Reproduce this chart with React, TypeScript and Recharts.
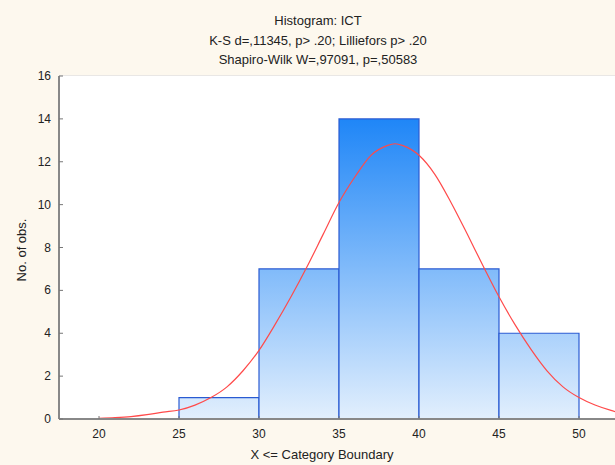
import React from 'react';
import { ComposedChart, Line, XAxis, YAxis, CartesianGrid, ReferenceArea } from 'recharts';

const titleLines = ['Histogram: ICT', 'K-S d=,11345, p> .20; Lilliefors p> .20', 'Shapiro-Wilk W=,97091, p=,50583'];
const xLabel = 'X <= Category Boundary';
const yLabel = 'No. of obs.';

const binLower = [25, 30, 35, 40, 45];
const binUpper = [30, 35, 40, 45, 50];
const binCounts = [1, 7, 14, 7, 4];

const xTicks = [20, 25, 30, 35, 40, 45, 50];
const yTicks = [0, 2, 4, 6, 8, 10, 12, 14, 16];

const curveX = [20, 21, 22, 23, 24, 25, 26, 27, 28, 29, 30, 31, 32, 33, 34, 35, 36, 37, 38, 38.5, 39, 40, 41, 42, 43, 44, 45, 46, 47, 48, 49, 50, 51, 52, 52.5];
const curveY = [0.03, 0.06, 0.11, 0.2, 0.32, 0.42, 0.65, 1.0, 1.5, 2.25, 3.2, 4.4, 5.7, 7.1, 8.6, 10.1, 11.3, 12.3, 12.75, 12.84, 12.75, 12.3, 11.4, 10.1, 8.65, 7.15, 5.7, 4.4, 3.25, 2.25, 1.5, 1.0, 0.65, 0.4, 0.3];

const curveData = curveX.map((x, i) => ({ x, y: curveY[i] }));

const FONT = '"Liberation Sans", Arial, sans-serif';

const BottomTick = (props: any) => {
  const { x, y, payload } = props;
  return (
    <g>
      <line x1={x} y1={y} x2={x} y2={y - 3} stroke="#777" strokeWidth={1} />
      <text x={x} y={y + 19} textAnchor="middle" fontSize={12} fill="#222" fontFamily={FONT}>{payload.value}</text>
    </g>
  );
};

const TopTick = (props: any) => {
  const { x, y } = props;
  return <line x1={x} y1={y} x2={x} y2={y + 3} stroke="#777" strokeWidth={1} />;
};

const LeftTick = (props: any) => {
  const { x, y, payload } = props;
  return (
    <g>
      <line x1={x} y1={y} x2={x + 4} y2={y} stroke="#777" strokeWidth={1} />
      <text x={x - 8} y={y + 4} textAnchor="end" fontSize={12} fill="#222" fontFamily={FONT}>{payload.value}</text>
    </g>
  );
};

export default function App() {
  return (
    <div style={{ position: 'absolute', left: 0, top: 0, width: 615, height: 465, overflow: 'hidden', background: '#fdf8ee' }}>
      <ComposedChart
        width={625}
        height={465}
        data={curveData}
        margin={{ top: 76, right: 6, bottom: 0, left: 0 }}
        style={{ fontFamily: FONT }}
      >
        <defs>
          <linearGradient id="barGrad" gradientUnits="userSpaceOnUse" x1="0" y1="119" x2="0" y2="419">
            <stop offset="0" stopColor="#1f86f7" />
            <stop offset="1" stopColor="#e2effd" />
          </linearGradient>
        </defs>
        <rect x={59} y={76} width={560} height={343} fill="#ffffff" />
        <CartesianGrid vertical={false} stroke="#e2e2e2" strokeWidth={1.5} fill="#ffffff" />
        <XAxis
          dataKey="x"
          type="number"
          domain={[17.5, 52.5]}
          ticks={xTicks}
          allowDataOverflow
          height={46}
          tickSize={0}
          tickMargin={0}
          tick={<BottomTick />}
          axisLine={{ stroke: '#888', strokeWidth: 2 }}
          tickLine={false}
        />
        <XAxis
          xAxisId="top"
          orientation="top"
          dataKey="x"
          type="number"
          domain={[17.5, 52.5]}
          ticks={xTicks}
          allowDataOverflow
          height={0}
          tickSize={0}
          tick={<TopTick />}
          axisLine={{ stroke: '#333', strokeWidth: 1 }}
          tickLine={false}
        />
        <YAxis
          type="number"
          domain={[0, 16]}
          ticks={yTicks}
          width={59}
          tickSize={0}
          tickMargin={0}
          tick={<LeftTick />}
          axisLine={{ stroke: '#888', strokeWidth: 2 }}
          tickLine={false}
        />
        {binCounts.map((c, i) => (
          <ReferenceArea
            key={i}
            x1={binLower[i]}
            x2={binUpper[i]}
            y1={0}
            y2={c}
            fill="url(#barGrad)"
            fillOpacity={1}
            stroke="#2a5bd2"
            strokeWidth={1.2}
          />
        ))}
        <Line
          dataKey="y"
          type="monotone"
          stroke="#ff4a4a"
          strokeWidth={1.2}
          dot={false}
          isAnimationActive={false}
        />
      </ComposedChart>
      <svg width={615} height={465} style={{ position: 'absolute', left: 0, top: 0, pointerEvents: 'none' }}>
        <g fontFamily={FONT} fontSize={13} fill="#222" textAnchor="middle">
          <text x={318} y={25}>{titleLines[0]}</text>
          <text x={318} y={45}>{titleLines[1]}</text>
          <text x={318} y={64}>{titleLines[2]}</text>
          <text x={322} y={459}>{xLabel}</text>
          <text x={25.5} y={250} transform="rotate(-90 25.5 250)">{yLabel}</text>
        </g>
      </svg>
    </div>
  );
}
